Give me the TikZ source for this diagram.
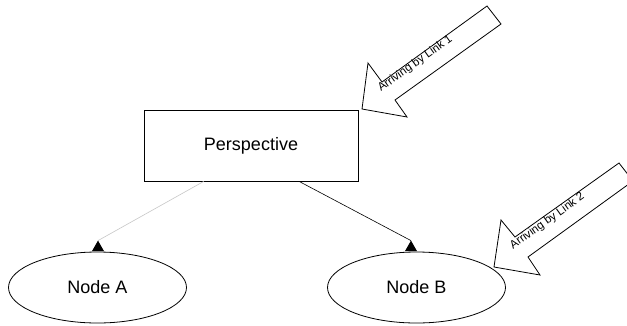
\documentclass[tikz,border=0pt]{standalone}
\usepackage{fontspec}
\setmainfont{Liberation Sans}
\usetikzlibrary{calc,shapes.geometric}
\begin{document}
\begin{tikzpicture}[x=1pt,y=1pt,
  box/.style={draw, line width=0.8pt, minimum width=214pt, minimum height=71pt,
    inner sep=0pt, font=\fontsize{18}{20}\selectfont},
  oval/.style={draw, ellipse, line width=0.8pt, minimum width=178pt,
    minimum height=71pt, inner sep=0pt, font=\fontsize{18}{20}\selectfont},
  callout/.style={draw, fill=white, line width=0.8pt, line join=miter},
  lbl/.style={font=\fontsize{11.5}{13}\selectfont, inner sep=0pt, rotate=35.5, anchor=base west},
  tipmark/.style={fill=black}]
  \useasboundingbox (0,0) rectangle (627,-325);
  \clip (0,0) rectangle (627,-325);
  \fill[white] (0,0) rectangle (627,-325);

  % main nodes
  \node[box] (P) at (251,-145.5) {Perspective};
  \node[oval] (A) at (97.5,-287.5) {Node A};
  \node[oval] (B) at (416.5,-287.5) {Node B};

  % triangle apexes sitting on top of the ovals
  \coordinate (tA) at ($(A.north)+(0.5,11)$);
  \coordinate (tB) at ($(B.north)+(-5.5,11)$);

  % connectors
  \draw[line width=0.6pt, black!22] ($(P.south west)!0.28!(P.south east)$) -- (tA);
  \draw[line width=0.6pt] ($(P.south west)!0.724!(P.south east)$) -- (tB);
  \fill[tipmark] (tA) -- ++(-6,-10.5) -- ++(12,0) -- cycle;
  \fill[tipmark] (tB) -- ++(-6,-10.5) -- ++(12,0) -- cycle;

  % incoming link arrows
  \draw[callout] (362,-109) -- (368,-63) -- (382,-82) -- (487,-6) -- (501,-24)
    -- (395,-100) -- (407,-117) -- cycle;
  \node[lbl] (L1) at (381,-92) {Arriving by Link 1};

  \draw[callout] (494,-267) -- (501,-220) -- (515,-237) -- (619,-163) -- (633,-181)
    -- (528,-257) -- (540,-275) -- cycle;
  \node[lbl] (L2) at (513,-249.5) {Arriving by Link 2};
\end{tikzpicture}
\end{document}
